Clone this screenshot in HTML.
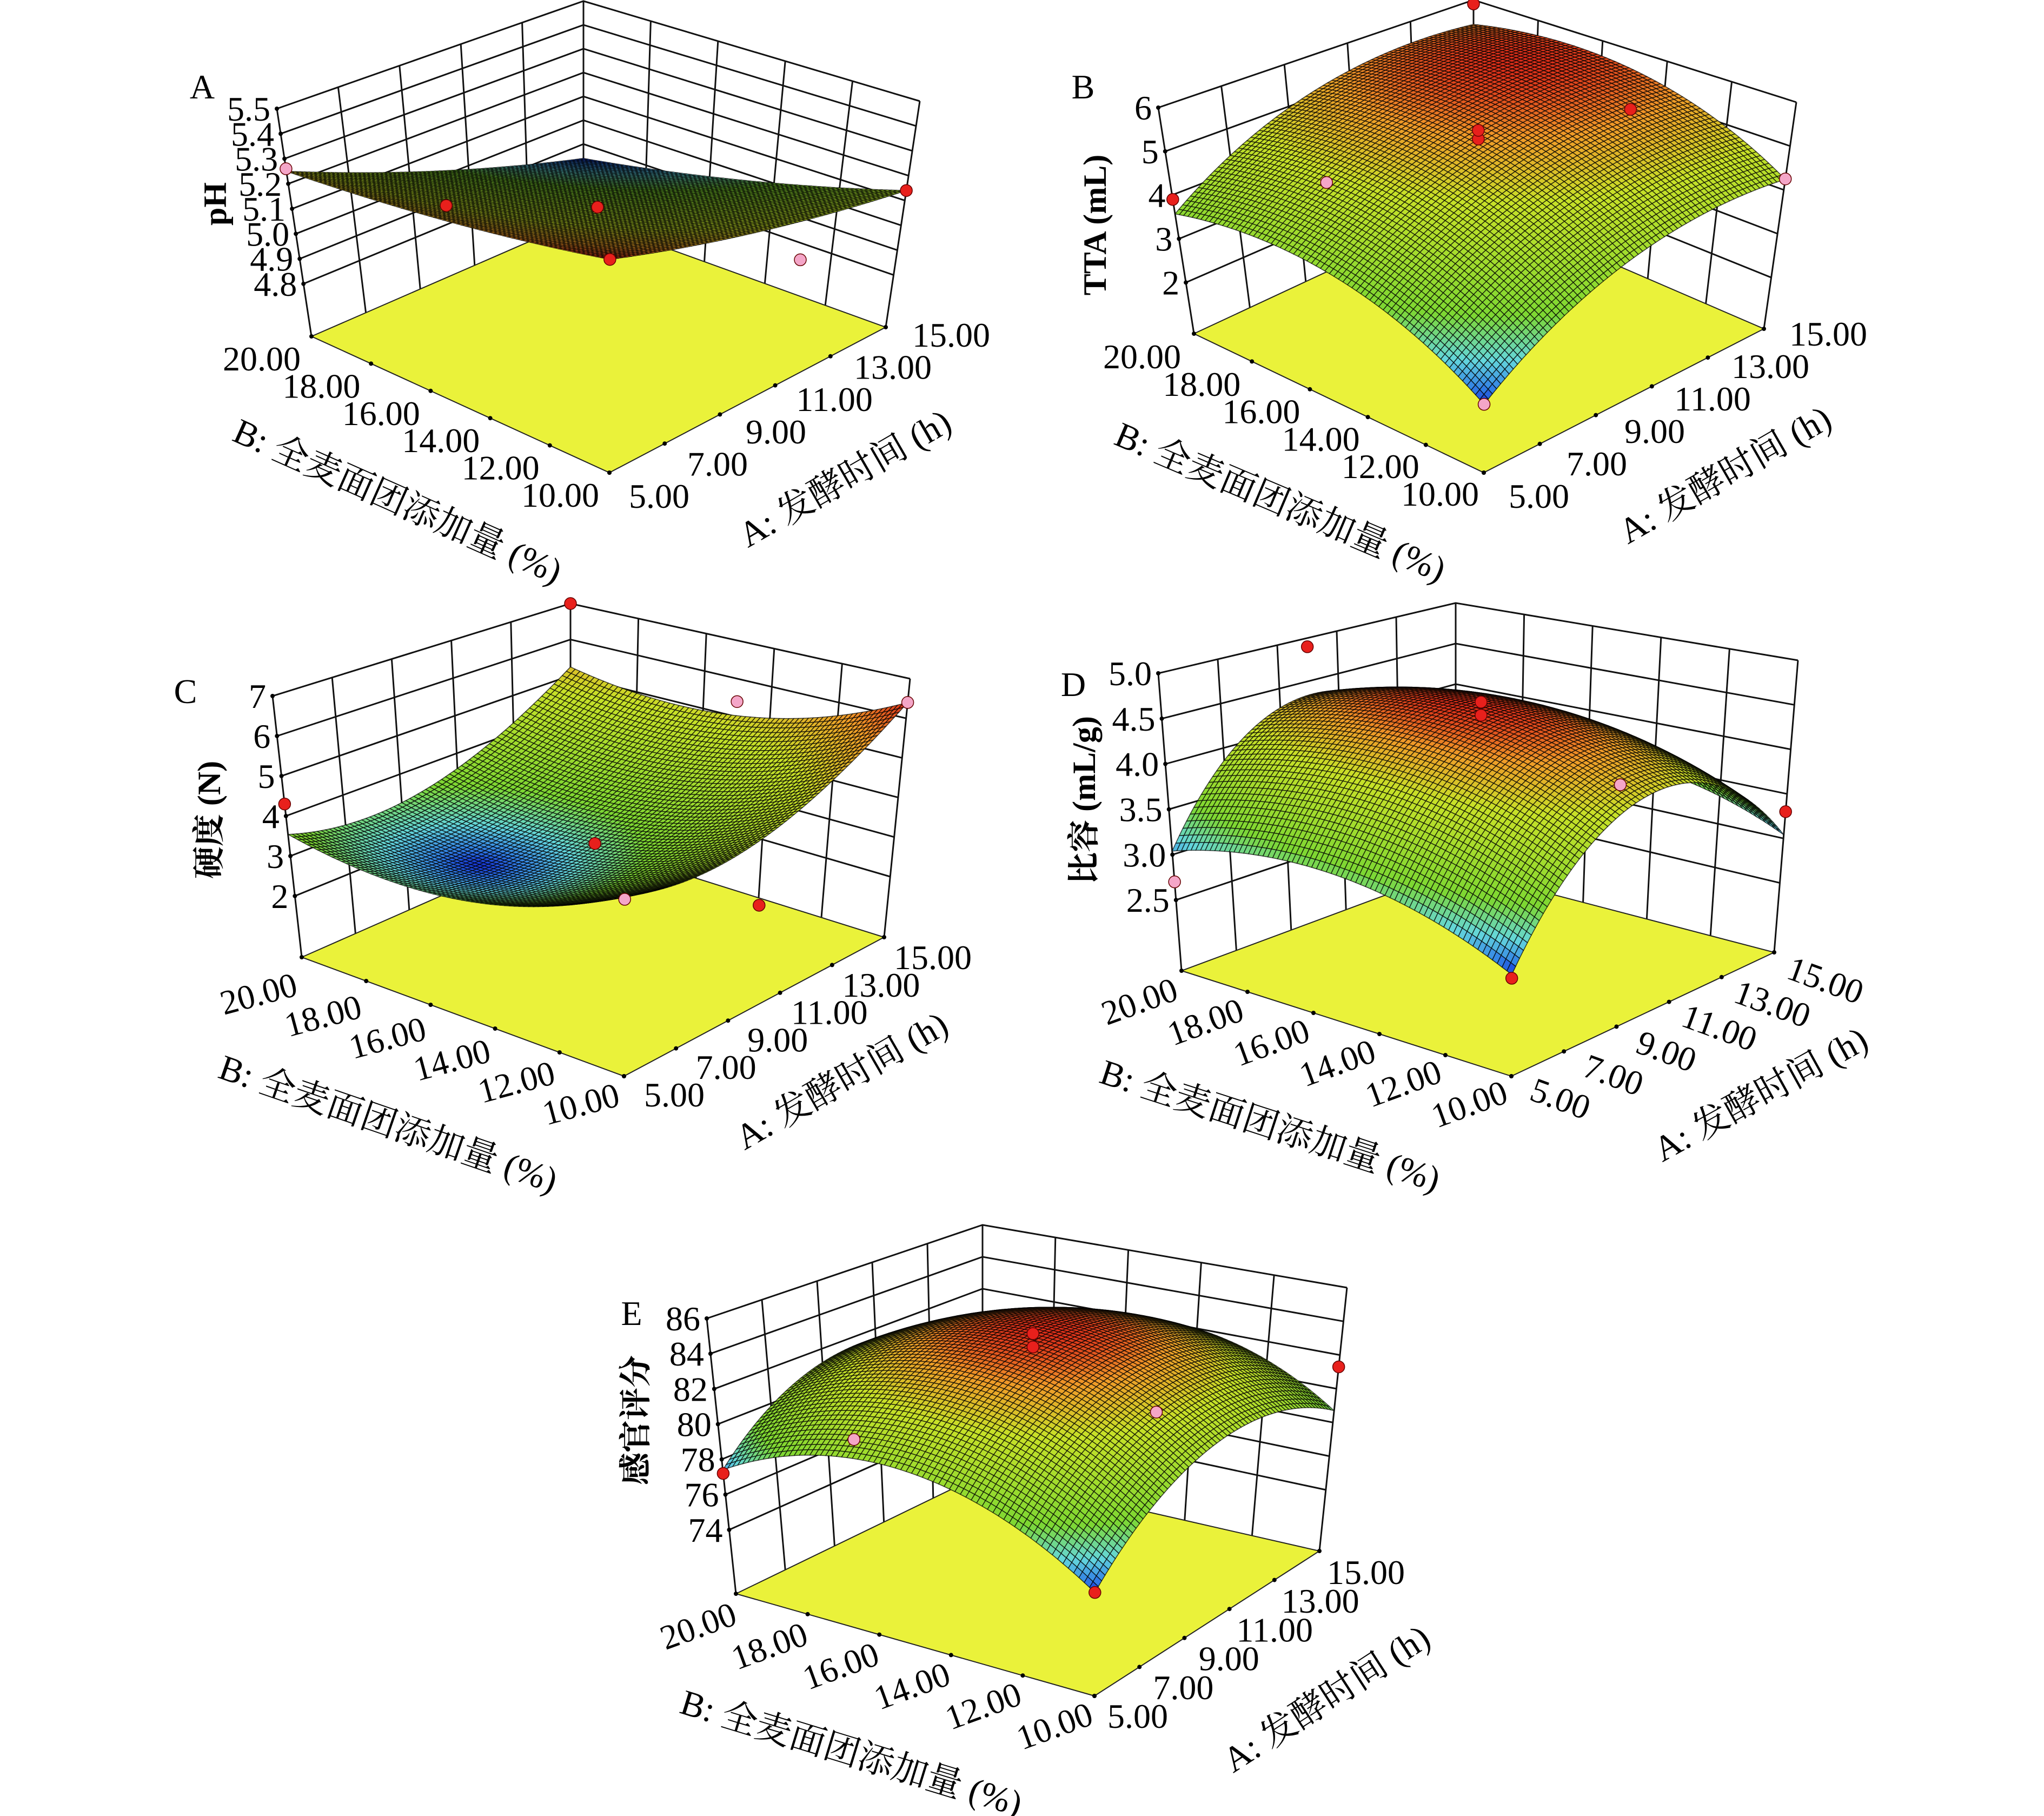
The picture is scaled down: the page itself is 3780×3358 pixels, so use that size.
<!DOCTYPE html>
<html><head><meta charset="utf-8">
<style>
html,body{margin:0;padding:0;background:#fff;}
svg{display:block;}
text{font-family:"Liberation Serif","Noto Serif CJK SC","Noto Sans CJK SC",serif;fill:#000;}
</style></head>
<body>
<svg id="chart" xmlns="http://www.w3.org/2000/svg" width="3780" height="3358" viewBox="0 0 3780 3358"></svg>
<script>
// ---- data ----
const panelIds = ['A','B','C','D','E'];
const aTickLabels = ['5.00','7.00','9.00','11.00','13.00','15.00'];
const bTickLabels = ['10.00','12.00','14.00','16.00','18.00','20.00'];
const zTitles = ['pH','TTA (mL)','硬度 (N)','比容 (mL/g)','感官评分'];
const zTicksA = [4.8,4.9,5.0,5.1,5.2,5.3,5.4,5.5];
const zTicksB = [2,3,4,5,6];
const zTicksC = [2,3,4,5,6,7];
const zTicksD = [2.5,3.0,3.5,4.0,4.5,5.0];
const zTicksE = [74,76,78,80,82,84,86];
const zDecimals = [1,0,0,1,0];
const zRangeA = [4.59,5.5];
const zRangeB = [0.83,6];
const zRangeC = [0.47,7];
const zRangeD = [1.72,5];
const zRangeE = [70.37,86];
// quadratic model coefficients: b0, A, B, AB, A^2, B^2 (coded units)
const coefA = [5.11,-0.16,-0.105,-0.045,0.02,0.02];
const coefB = [5.3,0.95,0.615,-0.045,-0.7,-0.74];
const coefC = [3.15,0.88,-0.55,-0.03,1.0,0.79];
const coefD = [4.67,0.07,0.07,-0.02,-1.25,-0.40];
const coefE = [84.8,0.8,0.15,-0.25,-3.5,-3.5];
// design points: [codedA, codedB, value]
const ptsA = [[-1,1,5.26],[-1,-1,5.37],[1,-1,5.14],[0,0,5.11],[-1,0,5.35],[0.3,-1,5.05]];
const ptsB = [[-1,1,3.9],[-1,-1,2.25],[1,-1,4.25],[0,0,5.3],[0,0,5.5],[1,1,5.9],[0,1,2.9],[1,0,4.6]];
const ptsC = [[-1,1,4.3],[-1,-1,4.5],[1,-1,6.4],[0,0,3.2],[1,1,7.0],[1,0,5.4],[0,-1,2.9]];
const ptsD = [[-1,1,2.7],[-1,-1,2.82],[1,-1,3.3],[0,0,4.75],[0,0,4.6],[0,1,4.9],[1,0,3.2]];
const ptsE = [[-1,1,77.2],[-1,-1,76.6],[1,-1,81.3],[0,0,85.0],[0,0,84.2],[0,1,76.0],[1,0,76.5]];
const pinkA=[1,0,0,0,0,1], pinkB=[0,1,1,0,0,0,1,0], pinkC=[0,1,1,0,0,1,0], pinkD=[1,0,0,0,0,0,1], pinkE=[0,0,0,0,0,1,1];
const colorGamma = [1,1,0.6,1,1];

// ---- geometry (layout, not data) ----
const geo = {
 A:{L:[576,622],Lt:[512,201],F:[1127,874],Ft:[1128,414],R:[1638,605],Rt:[1701,187],K:[1079,403],Kt:[1079,2],
    bo0:[-92,41],bo1:[-91,41],ao0:[92,43],ao1:[121,14],rb:0,ra:0,
    bt:[-116,179],bta:24,at:[180,145],ata:-30,letter:[374,160],zt:[398,377]},
 B:{L:[2208,617],Lt:[2142,199],F:[2744,874],Ft:[2746,414],R:[3262,608],Rt:[3322,189],K:[2725,376],Kt:[2725,0],
    bo0:[-96,42],bo1:[-81,39],ao0:[102,43],ao1:[119,9],rb:0,ra:0,
    bt:[-108,183],bta:23,at:[187,137],ata:-30,letter:[2003,160],zt:[2025,416]},
 C:{L:[558,1770],Lt:[504,1287],F:[1154,1990],Ft:[1156,1460],R:[1635,1733],Rt:[1683,1255],K:[1055,1551],Kt:[1055,1116],
    bo0:[-80,67],bo1:[-80,51],ao0:[93,34],ao1:[90,37],rb:-15,ra:0,
    bt:[-138,198],bta:19,at:[162,137],ata:-30,letter:[343,1278],zt:[387,1516]},
 D:{L:[2185,1795],Lt:[2142,1245],F:[2795,1990],Ft:[2797,1450],R:[3281,1761],Rt:[3325,1221],K:[2692,1607],Kt:[2692,1115],
    bo0:[-78,56],bo1:[-78,51],ao0:[91,41],ao1:[95,51],rb:-20,ra:20,
    bt:[-141,189],bta:18,at:[218,148],ata:-29,letter:[1985,1265],zt:[2005,1480]},
 E:{L:[1361,2947],Lt:[1307,2438],F:[2024,3136],Ft:[2026,2656],R:[2440,2868],Rt:[2491,2381],K:[1817,2726],Kt:[1817,2265],
    bo0:[-70,59],bo1:[-74,55],ao0:[80,37],ao1:[86,39],rb:-20,ra:0,
    bt:[-118,200],bta:17,at:[221,139],ata:-33,letter:[1168,2428],zt:[1176,2626]}
};
const zTicksAll={A:zTicksA,B:zTicksB,C:zTicksC,D:zTicksD,E:zTicksE};
const zRangeAll={A:zRangeA,B:zRangeB,C:zRangeC,D:zRangeD,E:zRangeE};
const coefAll={A:coefA,B:coefB,C:coefC,D:coefD,E:coefE};
const ptsAll={A:ptsA,B:ptsB,C:ptsC,D:ptsD,E:ptsE};
const pinkAll={A:pinkA,B:pinkB,C:pinkC,D:pinkD,E:pinkE};

const NS='http://www.w3.org/2000/svg';
const svg=document.getElementById('chart');
function el(tag,attrs,parent){const e=document.createElementNS(NS,tag);for(const k in attrs)e.setAttribute(k,attrs[k]);(parent||svg).appendChild(e);return e;}
function bil(g,s,u,v){const F=g[s?'Ft':'F'],R=g[s?'Rt':'R'],L=g[s?'Lt':'L'],K=g[s?'Kt':'K'];
 return [F[0]*(1-u)*(1-v)+R[0]*u*(1-v)+L[0]*(1-u)*v+K[0]*u*v, F[1]*(1-u)*(1-v)+R[1]*u*(1-v)+L[1]*(1-u)*v+K[1]*u*v];}
function proj(g,u,v,w){const a=bil(g,0,u,v),b=bil(g,1,u,v);return [a[0]+(b[0]-a[0])*w,a[1]+(b[1]-a[1])*w];}
function model(c,a,b){return c[0]+c[1]*a+c[2]*b+c[3]*a*b+c[4]*a*a+c[5]*b*b;}
const stops=[[0,[20,50,215]],[0.06,[50,130,230]],[0.16,[100,215,220]],[0.32,[125,215,50]],[0.7,[200,225,40]],[0.88,[240,155,40]],[1,[220,45,25]]];
function cmap(t){t=Math.max(0,Math.min(1,t));for(let i=1;i<stops.length;i++){if(t<=stops[i][0]){const p=stops[i-1],q=stops[i],f=(t-p[0])/(q[0]-p[0]);
 return 'rgb('+q[1].map((c,k)=>Math.round(p[1][k]+(c-p[1][k])*f)).join(',')+')';}}return 'rgb(220,45,25)';}
function pts(arr){return arr.map(p=>p[0].toFixed(1)+','+p[1].toFixed(1)).join(' ');}

panelIds.forEach((id,pi)=>{
 const g=geo[id], zt=zTicksAll[id], zr=zRangeAll[id], co=coefAll[id];
 const W=z=>(z-zr[0])/(zr[1]-zr[0]);
 const grp=el('g',{});
 
 
 const walls=el('g',{stroke:'#111','stroke-width':3,fill:'none'},grp);
 
 
 for(let k=0;k<=5;k++){const t=k/5;
  const p=proj(g,t,1,0),q=proj(g,t,1,1);el('line',{x1:p[0],y1:p[1],x2:q[0],y2:q[1]},walls);
  const r=proj(g,1,t,0),s=proj(g,1,t,1);el('line',{x1:r[0],y1:r[1],x2:s[0],y2:s[1]},walls);}
 const zl=zt.slice();if(Math.abs(zl[zl.length-1]-zr[1])>1e-6)zl.push(zr[1]);
 zl.forEach(z=>{const w=W(z);const a=proj(g,0,1,w),b=proj(g,1,1,w),c=proj(g,1,0,w);
  el('polyline',{points:pts([a,b,c])},walls);});
 const fl=el('polygon',{points:pts([proj(g,0,0,0),proj(g,1,0,0),proj(g,1,1,0),proj(g,0,1,0)]),fill:'#eaf23a',stroke:'#222','stroke-width':2},grp);
 
 
 for(let k=0;k<=5;k++){const t=k/5;const p=proj(g,0,t,0),q=proj(g,t,0,0);
  el('circle',{cx:p[0],cy:p[1],r:4,fill:'#000'},grp);el('circle',{cx:q[0],cy:q[1],r:4,fill:'#000'},grp);}
 zt.forEach(z=>{const w=W(z);const p=proj(g,0,1,w);
  el('circle',{cx:p[0],cy:p[1],r:4,fill:'#000'},grp);
  const tx=el('text',{x:p[0]-12,y:p[1]+22,'font-size':64,'text-anchor':'end'},grp);
  tx.textContent=z.toFixed(zDecimals[pi]);
  
  });
 const N=70, surf=el('g',{stroke:'rgba(0,0,0,0.72)','stroke-width':1.5,'stroke-linejoin':'round'},grp);
 
 
 const vals=[];let vmin=1e9,vmax=-1e9;
 for(let i=0;i<=N;i++){vals[i]=[];for(let j=0;j<=N;j++){const z=model(co,-1+2*i/N,-1+2*j/N);vals[i][j]=z;vmin=Math.min(vmin,z);vmax=Math.max(vmax,z);}}
 const quads=[];
 for(let i=0;i<N;i++)for(let j=0;j<N;j++)quads.push([i,j]);
 quads.sort((p,q)=>(q[0]+q[1])-(p[0]+p[1]));
 quads.forEach(([i,j])=>{const P=(ii,jj)=>proj(g,ii/N,jj/N,W(vals[ii][jj]));
  const zc=(vals[i][j]+vals[i+1][j]+vals[i][j+1]+vals[i+1][j+1])/4;
  el('polygon',{points:pts([P(i,j),P(i+1,j),P(i+1,j+1),P(i,j+1)]),fill:cmap(Math.pow((zc-vmin)/(vmax-vmin),colorGamma[pi]))},surf);});
 ptsAll[id].forEach((d,k)=>{const p=proj(g,(d[0]+1)/2,(d[1]+1)/2,W(d[2]));
  const c=el('circle',{cx:p[0],cy:p[1],r:11,fill:pinkAll[id][k]?'#f4a6c8':'#e8201c',stroke:'#600','stroke-width':1.5},grp);
  
  });
 for(let k=0;k<=5;k++){const t=k/5;
  const p=proj(g,0,t,0),ox=g.bo0[0]+(g.bo1[0]-g.bo0[0])*(1-t),oy=g.bo0[1]+(g.bo1[1]-g.bo0[1])*(1-t);
  const x=p[0]+ox,y=p[1]+oy;
  const tb=el('text',{x:x,y:y+22,'font-size':64,'text-anchor':'middle',transform:'rotate('+g.rb+' '+x+' '+y+')'},grp);
  tb.textContent=bTickLabels[k];
  
  
  const q=proj(g,t,0,0),ax=g.ao0[0]+(g.ao1[0]-g.ao0[0])*t,ay=g.ao0[1]+(g.ao1[1]-g.ao0[1])*t;
  const x2=q[0]+ax,y2=q[1]+ay;
  const ta=el('text',{x:x2,y:y2+22,'font-size':64,'text-anchor':'middle',transform:'rotate('+g.ra+' '+x2+' '+y2+')'},grp);
  ta.textContent=aTickLabels[k];
  
  }
 const mb=proj(g,0,0.5,0),bx=mb[0]+g.bt[0],by=mb[1]+g.bt[1];
 const tB=el('text',{x:bx,y:by+22,'font-size':66,'text-anchor':'middle',transform:'rotate('+g.bta+' '+bx+' '+by+')'},grp);
 tB.textContent='B: 全麦面团添加量 (%)';
 
 
 const ma=proj(g,0.5,0,0),ax=ma[0]+g.at[0],ay=ma[1]+g.at[1];
 const tA=el('text',{x:ax,y:ay+22,'font-size':66,'text-anchor':'middle',transform:'rotate('+g.ata+' '+ax+' '+ay+')'},grp);
 tA.textContent='A: 发酵时间 (h)';
 
 
 const zx=g.zt[0],zy=g.zt[1];
 const tZ=el('text',{x:zx,y:zy+20,'font-size':60,'font-weight':'bold','text-anchor':'middle',transform:'rotate(-90 '+zx+' '+zy+')'},grp);
 tZ.textContent=zTitles[pi];
 
 
 const lt=el('text',{x:g.letter[0],y:g.letter[1]+22,'font-size':64,'text-anchor':'middle'},grp);
 lt.textContent=id;
 
 
});
</script>
</body></html>
